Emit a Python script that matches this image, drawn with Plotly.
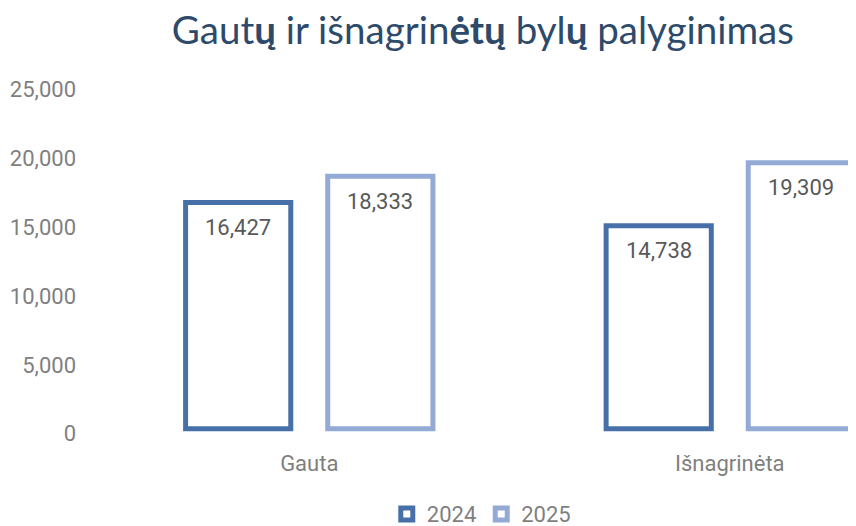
import plotly.graph_objects as go

categories = ["Gauta", "Išnagrinėta"]
series_names = ["2024", "2025"]
values_2024 = [16427, 14738]
values_2025 = [18333, 19309]
y_ticks = [0, 5000, 10000, 15000, 20000, 25000]
y_tick_labels = ["0", "5,000", "10,000", "15,000", "20,000", "25,000"]

colors = ["#4870A8", "#93ABD4"]
font_family = "Roboto"
bargap = 0.324
slot = (1 - bargap) / 2

fig = go.Figure()
series = [values_2024, values_2025]
for name, vals, col in zip(series_names, series, colors):
    fig.add_trace(go.Bar(
        name=name,
        x=categories,
        y=vals,
        marker=dict(color="white", line=dict(color=col, width=5)),
        hoverinfo="skip",
    ))

# value labels placed inside the top of each bar
for j, vals in enumerate(series):
    for i, v in enumerate(vals):
        fig.add_annotation(
            x=i + (j - 0.5) * slot, y=v, xref="x", yref="y",
            text=f"{v:,}", showarrow=False, yshift=-25,
            xanchor="center", yanchor="middle",
            font=dict(family=font_family, size=22, color="#595959"),
        )

fig.update_layout(
    width=848, height=518,
    margin=dict(l=91, r=0, t=52, b=86, autoexpand=False),
    paper_bgcolor="white", plot_bgcolor="white",
    barmode="group", bargap=bargap, bargroupgap=0.26,
    title=dict(
        text="Gaut<b>ų</b> ir išnagrin<b>ėtų</b> byl<b>ų</b> palyginimas",
        x=0.560, xanchor="center", y=0.9575, yanchor="middle",
        font=dict(family="Lato", size=38.5, color="#2D4A6B"),
    ),
    showlegend=True,
    legend=dict(
        orientation="h", x=0.505, xanchor="center", y=-0.195, yanchor="middle",
        font=dict(family=font_family, size=22, color="#7F7F7F"),
        itemwidth=30,
    ),
)
fig.update_xaxes(
    type="category", range=[-0.5, 1.3002],
    showgrid=False, showline=False, zeroline=False, ticks="",
    tickfont=dict(family=font_family, size=22, color="#7F7F7F"),
    ticklabelstandoff=8, automargin=False,
)
fig.update_yaxes(
    range=[-820, 26764],
    tickvals=y_ticks, ticktext=y_tick_labels,
    showgrid=False, showline=False, zeroline=False, ticks="",
    tickfont=dict(family=font_family, size=22, color="#7F7F7F"),
    ticklabelstandoff=22, ticklabelshift=5, automargin=False,
)

fig.write_html("out.html")
